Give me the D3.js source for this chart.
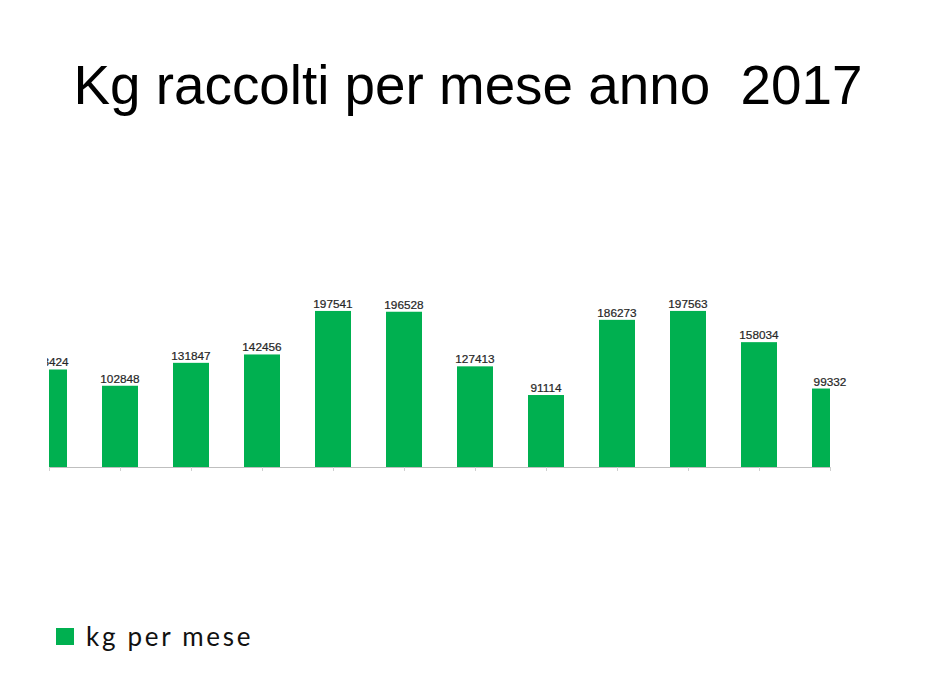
<!DOCTYPE html>
<html>
<head>
<meta charset="utf-8">
<script src="https://cdn.jsdelivr.net/npm/d3@7"></script>
<style>
  html, body { margin: 0; padding: 0; background: #fff; }
  svg { display: block; }
</style>
</head>
<body>
<div id="chart"></div>
<script>
// Values per month (labels are not shown on the chart)
const months = ['Gen', 'Feb', 'Mar', 'Apr', 'Mag', 'Giu', 'Lug', 'Ago', 'Set', 'Ott', 'Nov', 'Dic'];
const kgValues = [123424, 102848, 131847, 142456, 197541, 196528, 127413, 91114, 186273, 197563, 158034, 99332];
const seriesName = 'kg per mese';
const titleText = 'Kg raccolti per mese anno  2017';

(function() {
    const width = 948;
    const height = 689;
    const green = '#00b050';

    const svg = d3.select('#chart')
        .append('svg')
        .attr('width', width)
        .attr('height', height);

    // Title (keeps the double space)
    svg.append('text')
        .attr('x', 468)
        .attr('y', 104)
        .attr('text-anchor', 'middle')
        .attr('font-family', 'Liberation Sans, Arial, sans-serif')
        .attr('font-size', 54.8)
        .attr('fill', '#000')
        .style('white-space', 'pre')
        .text(titleText);

    // Plot area: the slide crops the chart at the first and last bar centre
    const plotLeft = 49, plotRight = 830, baseline = 467;

    const x = d3.scalePoint()
        .domain(months)
        .range([plotLeft, plotRight]);

    const y = d3.scaleLinear()
        .domain([0, 250000])
        .range([baseline, baseline - 197.5]);

    const barWidth = 36;

    svg.append('clipPath')
        .attr('id', 'bar-clip')
        .append('rect')
        .attr('x', plotLeft)
        .attr('y', 0)
        .attr('width', plotRight - plotLeft)
        .attr('height', height);

    svg.append('clipPath')
        .attr('id', 'label-clip')
        .append('rect')
        .attr('x', plotLeft - 2)
        .attr('y', 0)
        .attr('width', width)
        .attr('height', height);

    // Bars
    svg.append('g')
        .attr('clip-path', 'url(#bar-clip)')
        .selectAll('rect')
        .data(kgValues)
        .enter()
        .append('rect')
        .attr('x', (d, i) => x(months[i]) - barWidth / 2)
        .attr('y', d => y(d))
        .attr('width', barWidth)
        .attr('height', d => baseline - y(d))
        .attr('fill', green);

    // Value labels
    svg.append('g')
        .attr('clip-path', 'url(#label-clip)')
        .selectAll('text')
        .data(kgValues)
        .enter()
        .append('text')
        .attr('x', (d, i) => x(months[i]))
        .attr('y', d => y(d) - 3)
        .attr('text-anchor', 'middle')
        .attr('font-family', 'Liberation Sans, Arial, sans-serif')
        .attr('font-size', 11.8)
        .attr('fill', '#262626')
        .attr('stroke', '#262626')
        .attr('stroke-width', 0.2)
        .text(d => d);

    // Category axis (no labels)
    const axis = svg.append('g')
        .attr('transform', `translate(0,${baseline})`)
        .call(d3.axisBottom(x).tickSize(4).tickFormat(''));
    axis.select('.domain').attr('stroke', '#bfbfbf').attr('d', `M${plotLeft},0.5H${plotRight}`);
    axis.selectAll('.tick line').attr('stroke', '#d0d0d0');

    // Legend
    const legend = svg.append('g');
    legend.append('rect')
        .attr('x', 56)
        .attr('y', 628)
        .attr('width', 18)
        .attr('height', 17)
        .attr('fill', green);
    legend.append('text')
        .attr('x', 86)
        .attr('y', 646)
        .attr('font-family', 'Lato, Open Sans, sans-serif')
        .attr('font-size', 26)
        .attr('letter-spacing', 2.7)
        .attr('fill', '#111')
        .text(seriesName);
})();
</script>
</body>
</html>
